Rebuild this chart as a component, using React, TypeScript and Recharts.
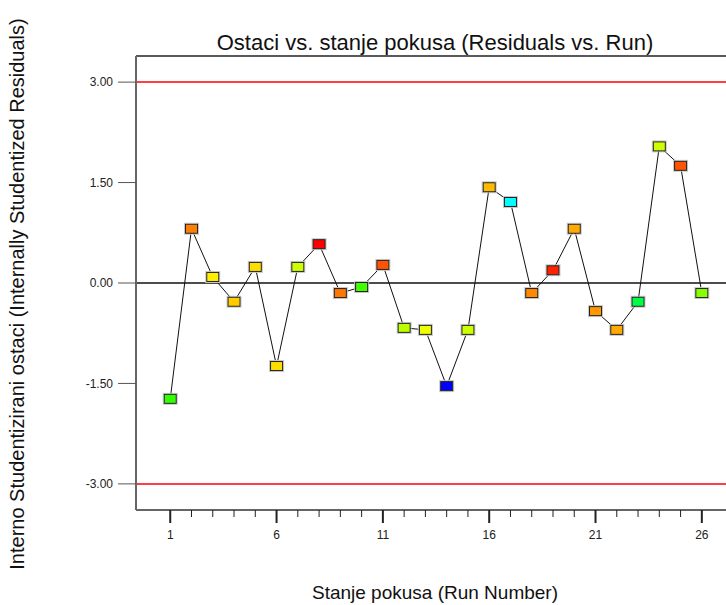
import React from "react"
import {
    ComposedChart,
    XAxis,
    YAxis,
    Line,
    Scatter,
    ReferenceLine,
} from "recharts"

// run order, residual, marker colour
const RUNS = [1, 2, 3, 4, 5, 6, 7, 8, 9, 10, 11, 12, 13, 14, 15, 16, 17, 18, 19, 20, 21, 22, 23, 24, 25, 26]
const RESIDUALS = [
    -1.73, 0.81, 0.09, -0.28, 0.24, -1.24, 0.24, 0.58, -0.15, -0.06,
    0.27, -0.67, -0.70, -1.54, -0.70, 1.43, 1.21, -0.15, 0.19, 0.81,
    -0.42, -0.70, -0.28, 2.04, 1.75, -0.15,
]
const POINT_COLORS = [
    "#33ff00", "#ff8000", "#ffee00", "#ffcc00", "#ffdd00", "#ffdd00", "#ccff00", "#ff0000", "#ff7700", "#44ff00",
    "#ff5500", "#bbff00", "#eeff00", "#0000ff", "#ccff00", "#ffbb00", "#00ffff", "#ff8800", "#ff2200", "#ffaa00",
    "#ff9900", "#ffaa00", "#00ff44", "#ccff00", "#ff5500", "#88ff00",
]
const Y_TICKS = [-3, -1.5, 0, 1.5, 3]
const X_MAJOR = [1, 6, 11, 16, 21, 26]
const LIMIT = 3

const X_DOMAIN = [-0.61, 28.03]
const Y_DOMAIN = [-3.39, 3.39]

const TITLE = "Ostaci vs. stanje pokusa (Residuals vs. Run)"
const X_TITLE = "Stanje pokusa (Run Number)"
const Y_TITLE = "Interno Studentizirani ostaci (Internally Studentized Residuals)"

const FONT = "'Liberation Sans', Arial, sans-serif"

const data = RUNS.map((run, i) => ({
    run,
    residual: RESIDUALS[i],
    color: POINT_COLORS[i],
}))

function Marker(props: any) {
    const { cx, cy, payload } = props
    if (cx == null || cy == null) return null
    return (
        <g>
            <rect x={cx - 7} y={cy - 5.5} width={14} height={11} fill="none" stroke="#c8c8c8" strokeWidth={1} />
            <rect x={cx - 6} y={cy - 4.5} width={12} height={9} fill={payload.color} stroke="#222" strokeWidth={1} />
        </g>
    )
}

function RunTick(props: any) {
    const { x, y, payload } = props
    const major = X_MAJOR.includes(payload.value)
    return (
        <g>
            <line x1={x} x2={x} y1={y} y2={y + (major ? 13 : 7)} stroke="#222" strokeWidth={major ? 2 : 1} />
            {major && (
                <text x={x} y={y + 29} textAnchor="middle" fontSize={12} fontFamily={FONT} fill="#222">
                    {payload.value}
                </text>
            )}
        </g>
    )
}

export default function App() {
    return (
        <div
            style={{
                position: "absolute",
                left: 0,
                top: 0,
                width: 726,
                height: 605,
                overflow: "hidden",
                background: "#fff",
                fontFamily: FONT,
            }}
        >
            <ComposedChart
                width={745}
                height={605}
                data={data}
                margin={{ top: 56, right: 0, bottom: 0, left: 0 }}
            >
                <XAxis
                    dataKey="run"
                    type="number"
                    domain={X_DOMAIN}
                    allowDataOverflow
                    ticks={RUNS}
                    interval={0}
                    height={95}
                    tickSize={0}
                    tickMargin={0}
                    tickLine={false}
                    tick={<RunTick />}
                    axisLine={{ stroke: "#666", strokeWidth: 2 }}
                />
                <YAxis
                    type="number"
                    domain={Y_DOMAIN}
                    allowDataOverflow
                    ticks={Y_TICKS}
                    interval={0}
                    width={136}
                    tickSize={18}
                    tickMargin={5}
                    tickFormatter={(v: number) => v.toFixed(2)}
                    tick={{ fontSize: 12, fill: "#222", fontFamily: FONT }}
                    tickLine={{ stroke: "#555" }}
                    axisLine={{ stroke: "#666", strokeWidth: 2 }}
                />
                {/* plot frame top edge */}
                <ReferenceLine y={Y_DOMAIN[1]} stroke="#222" strokeWidth={1.5} ifOverflow="visible" />
                <ReferenceLine y={LIMIT} stroke="#ff0000" strokeWidth={1.5} />
                <ReferenceLine y={-LIMIT} stroke="#ff0000" strokeWidth={1.5} />
                <ReferenceLine y={0} stroke="#111" strokeWidth={1.5} />
                <Scatter dataKey="residual" shape={Marker} isAnimationActive={false} />
                <Line
                    type="linear"
                    dataKey="residual"
                    stroke="#111"
                    strokeWidth={1}
                    dot={false}
                    activeDot={false}
                    isAnimationActive={false}
                />
            </ComposedChart>
            <div
                style={{
                    position: "absolute",
                    left: 0,
                    width: 870,
                    top: 31,
                    textAlign: "center",
                    fontSize: 22,
                    lineHeight: "24px",
                    color: "#111",
                    whiteSpace: "nowrap",
                }}
            >
                {TITLE}
            </div>
            <div
                style={{
                    position: "absolute",
                    left: 0,
                    width: 870,
                    top: 583,
                    textAlign: "center",
                    fontSize: 19,
                    lineHeight: "20px",
                    color: "#111",
                    whiteSpace: "nowrap",
                }}
            >
                {X_TITLE}
            </div>
            <div
                style={{
                    position: "absolute",
                    left: 17,
                    top: 294,
                    transform: "translate(-50%, -50%) rotate(-90deg)",
                    fontSize: 20,
                    lineHeight: "22px",
                    color: "#111",
                    whiteSpace: "nowrap",
                }}
            >
                {Y_TITLE}
            </div>
        </div>
    )
}
